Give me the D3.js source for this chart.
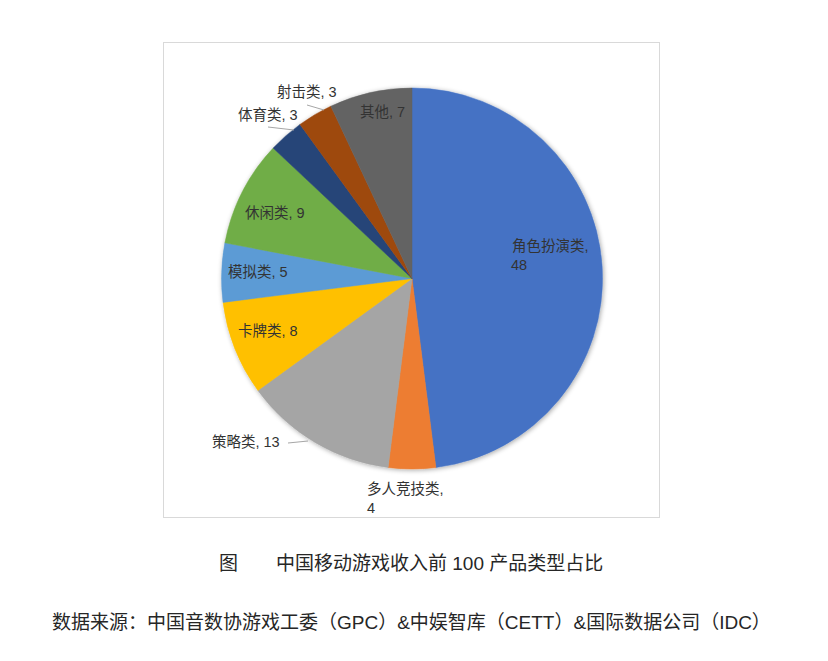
<!DOCTYPE html>
<html><head><meta charset="utf-8">
<script src="https://cdn.jsdelivr.net/npm/d3@7/dist/d3.min.js"></script>
<style>
html,body{margin:0;padding:0;background:#fff;}
svg{display:block;}
</style></head>
<body><svg id="c" width="828" height="661"></svg>
<script>
const categories = ["角色扮演类","多人竞技类","策略类","卡牌类","模拟类","休闲类","体育类","射击类","其他"];
const values = [48,4,13,8,5,9,3,3,7];
const colors = ["#4472C4","#ED7D31","#A5A5A5","#FFC000","#5B9BD5","#70AD47","#264478","#9E480E","#636363"];
const captionText = "图\u3000\u3000中国移动游戏收入前 100 产品类型占比";
const sourceText = "数据来源：中国音数协游戏工委（GPC）&中娱智库（CETT）&国际数据公司（IDC）";

// label layout (text positions, not data)
const labelLayout = [
  {x:512, y:251, lines:[categories[0]+",", String(values[0])], dx2:-1},
  {x:367, y:494, lines:[categories[1]+",", String(values[1])]},
  {x:212, y:447, lines:[categories[2]+", "+values[2]], leader:[[288,443],[308,441]]},
  {x:238, y:336, lines:[categories[3]+", "+values[3]]},
  {x:228, y:277, lines:[categories[4]+", "+values[4]]},
  {x:245, y:218, lines:[categories[5]+", "+values[5]]},
  {x:238, y:120, lines:[categories[6]+", "+values[6]], leader:[[268,127],[294,130]]},
  {x:277, y:97, lines:[categories[7]+", "+values[7]], leader:[[307,105],[324,110]]},
  {x:360, y:117, lines:[categories[8]+", "+values[8]]}
];

const svg = d3.select("#c");
const font = "'Liberation Sans','Noto Sans CJK SC',sans-serif";

// frame
svg.append("rect").attr("x",163.5).attr("y",42.5).attr("width",496).attr("height",475)
  .attr("fill","#fff").attr("stroke","#D9D9D9").attr("stroke-width",1);

const defs = svg.append("defs");
const f = defs.append("filter").attr("id","sh").attr("x","-20%").attr("y","-20%").attr("width","140%").attr("height","140%");
f.append("feGaussianBlur").attr("in","SourceAlpha").attr("stdDeviation",2.5).attr("result","b");
f.append("feOffset").attr("in","b").attr("dx",1).attr("dy",1).attr("result","o");
f.append("feComponentTransfer").attr("in","o").attr("result","o2").append("feFuncA").attr("type","linear").attr("slope",0.35);
const m = f.append("feMerge"); m.append("feMergeNode").attr("in","o2"); m.append("feMergeNode").attr("in","SourceGraphic");

const cx = 412, cy = 278.5, r = 190.5;
const pie = d3.pie().sort(null).value(d=>d)(values);
const arc = d3.arc().innerRadius(0).outerRadius(r);

const g = svg.append("g").attr("transform",`translate(${cx},${cy})`).attr("filter","url(#sh)");
g.selectAll("path").data(pie).join("path")
  .attr("d",arc).attr("fill",(d,i)=>colors[i])
  .attr("stroke",(d,i)=>colors[i]).attr("stroke-width",0.5);

// labels
labelLayout.forEach((L,i)=>{
  if(L.leader){
    svg.append("line").attr("x1",L.leader[0][0]).attr("y1",L.leader[0][1])
      .attr("x2",L.leader[1][0]).attr("y2",L.leader[1][1])
      .attr("stroke","#A6A6A6").attr("stroke-width",1);
  }
  const t = svg.append("text").attr("font-family",font).attr("font-size",14.5).attr("fill","#333333");
  L.lines.forEach((s,j)=>{
    t.append("tspan").attr("x",L.x + (j>0 && L.dx2 ? L.dx2 : 0)).attr("y",L.y + j*19).text(s);
  });
});

svg.append("text").attr("x",219).attr("y",570).attr("font-family",font).attr("font-size",19)
  .attr("fill","#262626").style("white-space","pre").text(captionText);
svg.append("text").attr("x",52).attr("y",629).attr("font-family",font).attr("font-size",19)
  .attr("fill","#262626").text(sourceText);
</script>
</body></html>
